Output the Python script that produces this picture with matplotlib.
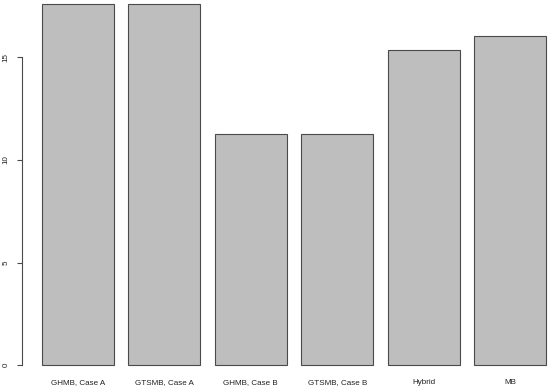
import matplotlib
matplotlib.use("Agg")
import matplotlib.pyplot as plt
from matplotlib.transforms import blended_transform_factory

categories = ["GHMB, Case A", "GTSMB, Case A", "GHMB, Case B", "GTSMB, Case B", "Hybrid", "MB"]
values = [17.58, 17.58, 11.27, 11.27, 15.34, 16.04]
yticks = [0, 5, 10, 15]

plt.rcParams['font.family'] = ['Liberation Sans', 'DejaVu Sans']

fig = plt.figure(figsize=(5.5, 3.92), dpi=100)
ax = fig.add_axes([21.5 / 550, 12.3 / 392, 545.0 / 550, 389.8 / 392])

width = 1.0
space = 0.2
xs = [space + width / 2 + i * (width + space) for i in range(len(categories))]
ax.bar(xs, values, width=width, color="#BEBEBE", edgecolor="#4a4a4a", linewidth=0.8)

xmin = space
xmax = len(categories) * (width + space)
xr = xmax - xmin
ax.set_xlim(xmin - 0.04 * xr, xmax + 0.04 * xr)
h = max(values)
ax.set_ylim(-0.04 * h, 1.04 * h)

for s in ["top", "right", "bottom"]:
    ax.spines[s].set_visible(False)
ax.spines["left"].set_bounds(yticks[0], yticks[-1])
ax.spines["left"].set_color("#4a4a4a")
ax.spines["left"].set_linewidth(0.8)

ax.set_yticks(yticks)
ax.set_yticklabels([str(t) for t in yticks], rotation=90, va="center", fontsize=5.8, color="#222222")
ax.tick_params(axis="y", length=3.6, width=0.8, color="#4a4a4a", pad=5)
ax.set_xticks([])

trans = blended_transform_factory(ax.transData, fig.transFigure)
for x, lab in zip(xs, categories):
    ax.text(x, 9 / 392, lab, transform=trans, ha="center", va="center", fontsize=5.75, color="#222222", clip_on=False)

fig.savefig("out.png", dpi=100)
